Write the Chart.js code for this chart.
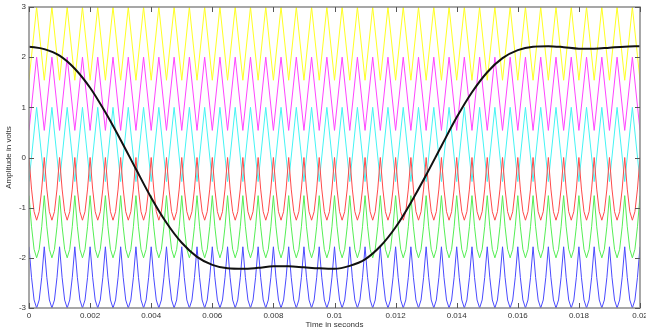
<!DOCTYPE html>
<html>
<head>
<meta charset="utf-8">
<script src="https://cdn.jsdelivr.net/npm/chart.js@4"></script>
<style>
  html, body { margin: 0; padding: 0; background: #ffffff; }
  canvas { display: block; }
</style>
</head>
<body>
<canvas id="chart" width="646" height="331"></canvas>
<script>
// Axis ticks
const xTickValues = [0, 0.002, 0.004, 0.006, 0.008, 0.01, 0.012, 0.014, 0.016, 0.018, 0.02];
const xTickLabels = ['0', '0.002', '0.004', '0.006', '0.008', '0.01', '0.012', '0.014', '0.016', '0.018', '0.02'];
const yTickValues = [-3, -2, -1, 0, 1, 2, 3];
const yTickLabels = ['-3', '-2', '-1', '0', '1', '2', '3'];

// Sample spacing (seconds) of each recorded set
const coarseStep = 0.00025;   // yellow / magenta / cyan
const fineStep = 0.0005 / 6;  // red / green / blue
const traceStep = 0.0005;     // black trace

// 2 kHz channels, offset stacks (volts)
const yellowValues = [
  1.54,3,1.54,3,1.54,3,1.54,3,1.54,3,1.54,3,1.54,3,1.54,3,1.54,3,1.54,3,
  1.54,3,1.54,3,1.54,3,1.54,3,1.54,3,1.54,3,1.54,3,1.54,3,1.54,3,1.54,3,
  1.54,3,1.54,3,1.54,3,1.54,3,1.54,3,1.54,3,1.54,3,1.54,3,1.54,3,1.54,3,
  1.54,3,1.54,3,1.54,3,1.54,3,1.54,3,1.54,3,1.54,3,1.54,3,1.54,3,1.54,3,
  1.54
];
const magentaValues = [
  0.54,2,0.54,2,0.54,2,0.54,2,0.54,2,0.54,2,0.54,2,0.54,2,0.54,2,0.54,2,
  0.54,2,0.54,2,0.54,2,0.54,2,0.54,2,0.54,2,0.54,2,0.54,2,0.54,2,0.54,2,
  0.54,2,0.54,2,0.54,2,0.54,2,0.54,2,0.54,2,0.54,2,0.54,2,0.54,2,0.54,2,
  0.54,2,0.54,2,0.54,2,0.54,2,0.54,2,0.54,2,0.54,2,0.54,2,0.54,2,0.54,2,
  0.54
];
const cyanValues = [
  -0.48,1,-0.48,1,-0.48,1,-0.48,1,-0.48,1,-0.48,1,-0.48,1,-0.48,1,-0.48,1,-0.48,1,
  -0.48,1,-0.48,1,-0.48,1,-0.48,1,-0.48,1,-0.48,1,-0.48,1,-0.48,1,-0.48,1,-0.48,1,
  -0.48,1,-0.48,1,-0.48,1,-0.48,1,-0.48,1,-0.48,1,-0.48,1,-0.48,1,-0.48,1,-0.48,1,
  -0.48,1,-0.48,1,-0.48,1,-0.48,1,-0.48,1,-0.48,1,-0.48,1,-0.48,1,-0.48,1,-0.48,1,
  -0.48
];
const redValues = [
  0,-0.63,-1.08,-1.25,-1.08,-0.63, 0,-0.63,-1.08,-1.25,-1.08,-0.63, 0,-0.63,-1.08,-1.25,-1.08,-0.63, 0,-0.63,-1.08,-1.25,-1.08,-0.63, 0,-0.63,-1.08,-1.25,-1.08,-0.63,
  0,-0.63,-1.08,-1.25,-1.08,-0.63, 0,-0.63,-1.08,-1.25,-1.08,-0.63, 0,-0.63,-1.08,-1.25,-1.08,-0.63, 0,-0.63,-1.08,-1.25,-1.08,-0.63, 0,-0.63,-1.08,-1.25,-1.08,-0.63,
  0,-0.63,-1.08,-1.25,-1.08,-0.63, 0,-0.63,-1.08,-1.25,-1.08,-0.63, 0,-0.63,-1.08,-1.25,-1.08,-0.63, 0,-0.63,-1.08,-1.25,-1.08,-0.63, 0,-0.63,-1.08,-1.25,-1.08,-0.63,
  0,-0.63,-1.08,-1.25,-1.08,-0.63, 0,-0.63,-1.08,-1.25,-1.08,-0.63, 0,-0.63,-1.08,-1.25,-1.08,-0.63, 0,-0.63,-1.08,-1.25,-1.08,-0.63, 0,-0.63,-1.08,-1.25,-1.08,-0.63,
  0,-0.63,-1.08,-1.25,-1.08,-0.63, 0,-0.63,-1.08,-1.25,-1.08,-0.63, 0,-0.63,-1.08,-1.25,-1.08,-0.63, 0,-0.63,-1.08,-1.25,-1.08,-0.63, 0,-0.63,-1.08,-1.25,-1.08,-0.63,
  0,-0.63,-1.08,-1.25,-1.08,-0.63, 0,-0.63,-1.08,-1.25,-1.08,-0.63, 0,-0.63,-1.08,-1.25,-1.08,-0.63, 0,-0.63,-1.08,-1.25,-1.08,-0.63, 0,-0.63,-1.08,-1.25,-1.08,-0.63,
  0,-0.63,-1.08,-1.25,-1.08,-0.63, 0,-0.63,-1.08,-1.25,-1.08,-0.63, 0,-0.63,-1.08,-1.25,-1.08,-0.63, 0,-0.63,-1.08,-1.25,-1.08,-0.63, 0,-0.63,-1.08,-1.25,-1.08,-0.63,
  0,-0.63,-1.08,-1.25,-1.08,-0.63, 0,-0.63,-1.08,-1.25,-1.08,-0.63, 0,-0.63,-1.08,-1.25,-1.08,-0.63, 0,-0.63,-1.08,-1.25,-1.08,-0.63, 0,-0.63,-1.08,-1.25,-1.08,-0.63,
  0
];
const greenValues = [
  -0.76,-1.38,-1.83,-2,-1.83,-1.38, -0.76,-1.38,-1.83,-2,-1.83,-1.38, -0.76,-1.38,-1.83,-2,-1.83,-1.38, -0.76,-1.38,-1.83,-2,-1.83,-1.38, -0.76,-1.38,-1.83,-2,-1.83,-1.38,
  -0.76,-1.38,-1.83,-2,-1.83,-1.38, -0.76,-1.38,-1.83,-2,-1.83,-1.38, -0.76,-1.38,-1.83,-2,-1.83,-1.38, -0.76,-1.38,-1.83,-2,-1.83,-1.38, -0.76,-1.38,-1.83,-2,-1.83,-1.38,
  -0.76,-1.38,-1.83,-2,-1.83,-1.38, -0.76,-1.38,-1.83,-2,-1.83,-1.38, -0.76,-1.38,-1.83,-2,-1.83,-1.38, -0.76,-1.38,-1.83,-2,-1.83,-1.38, -0.76,-1.38,-1.83,-2,-1.83,-1.38,
  -0.76,-1.38,-1.83,-2,-1.83,-1.38, -0.76,-1.38,-1.83,-2,-1.83,-1.38, -0.76,-1.38,-1.83,-2,-1.83,-1.38, -0.76,-1.38,-1.83,-2,-1.83,-1.38, -0.76,-1.38,-1.83,-2,-1.83,-1.38,
  -0.76,-1.38,-1.83,-2,-1.83,-1.38, -0.76,-1.38,-1.83,-2,-1.83,-1.38, -0.76,-1.38,-1.83,-2,-1.83,-1.38, -0.76,-1.38,-1.83,-2,-1.83,-1.38, -0.76,-1.38,-1.83,-2,-1.83,-1.38,
  -0.76,-1.38,-1.83,-2,-1.83,-1.38, -0.76,-1.38,-1.83,-2,-1.83,-1.38, -0.76,-1.38,-1.83,-2,-1.83,-1.38, -0.76,-1.38,-1.83,-2,-1.83,-1.38, -0.76,-1.38,-1.83,-2,-1.83,-1.38,
  -0.76,-1.38,-1.83,-2,-1.83,-1.38, -0.76,-1.38,-1.83,-2,-1.83,-1.38, -0.76,-1.38,-1.83,-2,-1.83,-1.38, -0.76,-1.38,-1.83,-2,-1.83,-1.38, -0.76,-1.38,-1.83,-2,-1.83,-1.38,
  -0.76,-1.38,-1.83,-2,-1.83,-1.38, -0.76,-1.38,-1.83,-2,-1.83,-1.38, -0.76,-1.38,-1.83,-2,-1.83,-1.38, -0.76,-1.38,-1.83,-2,-1.83,-1.38, -0.76,-1.38,-1.83,-2,-1.83,-1.38,
  -0.76
];
const blueValues = [
  -1.78,-2.39,-2.84,-3,-2.84,-2.39, -1.78,-2.39,-2.84,-3,-2.84,-2.39, -1.78,-2.39,-2.84,-3,-2.84,-2.39, -1.78,-2.39,-2.84,-3,-2.84,-2.39, -1.78,-2.39,-2.84,-3,-2.84,-2.39,
  -1.78,-2.39,-2.84,-3,-2.84,-2.39, -1.78,-2.39,-2.84,-3,-2.84,-2.39, -1.78,-2.39,-2.84,-3,-2.84,-2.39, -1.78,-2.39,-2.84,-3,-2.84,-2.39, -1.78,-2.39,-2.84,-3,-2.84,-2.39,
  -1.78,-2.39,-2.84,-3,-2.84,-2.39, -1.78,-2.39,-2.84,-3,-2.84,-2.39, -1.78,-2.39,-2.84,-3,-2.84,-2.39, -1.78,-2.39,-2.84,-3,-2.84,-2.39, -1.78,-2.39,-2.84,-3,-2.84,-2.39,
  -1.78,-2.39,-2.84,-3,-2.84,-2.39, -1.78,-2.39,-2.84,-3,-2.84,-2.39, -1.78,-2.39,-2.84,-3,-2.84,-2.39, -1.78,-2.39,-2.84,-3,-2.84,-2.39, -1.78,-2.39,-2.84,-3,-2.84,-2.39,
  -1.78,-2.39,-2.84,-3,-2.84,-2.39, -1.78,-2.39,-2.84,-3,-2.84,-2.39, -1.78,-2.39,-2.84,-3,-2.84,-2.39, -1.78,-2.39,-2.84,-3,-2.84,-2.39, -1.78,-2.39,-2.84,-3,-2.84,-2.39,
  -1.78,-2.39,-2.84,-3,-2.84,-2.39, -1.78,-2.39,-2.84,-3,-2.84,-2.39, -1.78,-2.39,-2.84,-3,-2.84,-2.39, -1.78,-2.39,-2.84,-3,-2.84,-2.39, -1.78,-2.39,-2.84,-3,-2.84,-2.39,
  -1.78,-2.39,-2.84,-3,-2.84,-2.39, -1.78,-2.39,-2.84,-3,-2.84,-2.39, -1.78,-2.39,-2.84,-3,-2.84,-2.39, -1.78,-2.39,-2.84,-3,-2.84,-2.39, -1.78,-2.39,-2.84,-3,-2.84,-2.39,
  -1.78,-2.39,-2.84,-3,-2.84,-2.39, -1.78,-2.39,-2.84,-3,-2.84,-2.39, -1.78,-2.39,-2.84,-3,-2.84,-2.39, -1.78,-2.39,-2.84,-3,-2.84,-2.39, -1.78,-2.39,-2.84,-3,-2.84,-2.39,
  -1.78
];

// 50 Hz trace (volts, every 0.5 ms)
const blackValues = [
  2.21, 2.16, 2.03, 1.77, 1.39, 0.90, 0.35, -0.23, -0.80, -1.30,
  -1.70, -1.98, -2.14, -2.21, -2.22, -2.20, -2.17, -2.17, -2.19, -2.21,
  -2.22, -2.16, -2.03, -1.77, -1.39, -0.90, -0.35, 0.23, 0.80, 1.30,
  1.70, 1.98, 2.14, 2.21, 2.22, 2.20, 2.17, 2.17, 2.19, 2.21,
  2.22
];

const toPoints = (values, step) => values.map((v, i) => ({ x: i * step, y: v }));

const labelFont = { family: "'Liberation Sans', Arial, sans-serif", size: 8 };
const labelColor = '#333333';

// Box outline with inward ticks on all four sides
const axesBox = {
  id: 'axesBox',
  afterDatasetsDraw(chart) {
    const { ctx, chartArea: a, scales: { x, y } } = chart;
    ctx.save();
    ctx.strokeStyle = '#8a8a8a';
    ctx.lineWidth = 1.5;
    ctx.strokeRect(a.left, a.top, a.right - a.left, a.bottom - a.top);
    ctx.strokeStyle = '#555555';
    ctx.lineWidth = 1;
    ctx.beginPath();
    const len = 5;
    xTickValues.forEach(v => {
      const px = Math.round(x.getPixelForValue(v)) + 0.5;
      ctx.moveTo(px, a.bottom); ctx.lineTo(px, a.bottom - len);
      ctx.moveTo(px, a.top); ctx.lineTo(px, a.top + len);
    });
    yTickValues.forEach(v => {
      const py = Math.round(y.getPixelForValue(v)) + 0.5;
      ctx.moveTo(a.left, py); ctx.lineTo(a.left + len, py);
      ctx.moveTo(a.right, py); ctx.lineTo(a.right - len, py);
    });
    ctx.stroke();
    ctx.restore();
  }
};

new Chart(document.getElementById('chart'), {
  type: 'line',
  data: {
    datasets: [
      { data: toPoints(blackValues, traceStep), borderColor: '#111111', borderWidth: 2, cubicInterpolationMode: 'monotone' },
      { data: toPoints(blueValues, fineStep), borderColor: '#4a4aff', borderWidth: 1 },
      { data: toPoints(greenValues, fineStep), borderColor: '#55ee55', borderWidth: 1 },
      { data: toPoints(redValues, fineStep), borderColor: '#ff4a4a', borderWidth: 1 },
      { data: toPoints(cyanValues, coarseStep), borderColor: '#44f4f4', borderWidth: 1 },
      { data: toPoints(magentaValues, coarseStep), borderColor: '#ff44ff', borderWidth: 1 },
      { data: toPoints(yellowValues, coarseStep), borderColor: '#ffff22', borderWidth: 1 }
    ]
  },
  options: {
    responsive: false,
    animation: false,
    devicePixelRatio: 1,
    layout: { padding: { left: 0, right: 6, top: 7, bottom: 0 } },
    plugins: { legend: { display: false }, tooltip: { enabled: false } },
    elements: { point: { radius: 0 }, line: { tension: 0, fill: false } },
    scales: {
      x: {
        type: 'linear', min: 0, max: 0.02,
        grid: { display: false, drawTicks: false },
        border: { display: false },
        ticks: { padding: 3, font: labelFont, color: labelColor, maxRotation: 0, autoSkip: false,
                 callback: (v, i) => xTickLabels[i] },
        afterBuildTicks: s => { s.ticks = xTickValues.map(v => ({ value: v })); },
        title: { display: true, text: 'Time in seconds', font: labelFont, color: labelColor, padding: { top: 0, bottom: 1 } },
        afterFit: s => { s.height = 23; s.paddingLeft = 0; s.paddingRight = 0; }
      },
      y: {
        type: 'linear', min: -3, max: 3,
        grid: { display: false, drawTicks: false },
        border: { display: false },
        ticks: { padding: 3, font: labelFont, color: labelColor, autoSkip: false,
                 callback: (v, i) => yTickLabels[i] },
        afterBuildTicks: s => { s.ticks = yTickValues.map(v => ({ value: v })); },
        title: { display: true, text: 'Amplitude in volts', font: labelFont, color: labelColor, padding: { top: 4, bottom: 0 } },
        afterFit: s => { s.width = 29; s.paddingTop = 0; s.paddingBottom = 0; }
      }
    }
  },
  plugins: [axesBox]
});
</script>
</body>
</html>
